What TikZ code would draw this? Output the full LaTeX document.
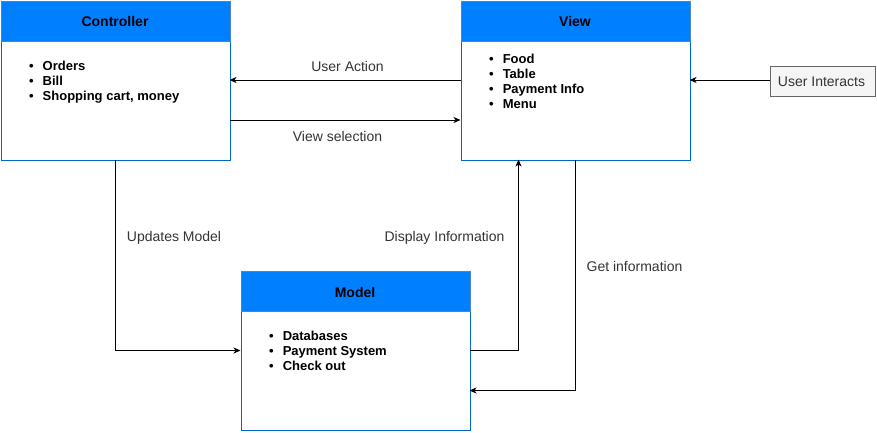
\documentclass[tikz,border=0pt]{standalone}
\usepackage{fontspec}
\setmainfont{Liberation Sans}
\usetikzlibrary{arrows.meta}
\definecolor{hdr}{HTML}{007FFF}
\definecolor{bdr}{HTML}{0066CC}
\definecolor{hdrline}{HTML}{4D86C8}
\definecolor{lbl}{HTML}{333333}
\begin{document}
\begin{tikzpicture}[x=1pt,y=-1pt,
  body/.style={draw=bdr,line width=1pt,fill=white,inner sep=0pt,anchor=north west},
  head/.style={draw=hdrline,line width=0.8pt,fill=hdr,inner sep=0pt,anchor=north west,minimum height=40pt},
  title/.style={font=\fontsize{14}{16}\selectfont\bfseries,anchor=base,inner sep=0pt},
  item/.style={font=\fontsize{13}{15}\selectfont\bfseries,anchor=base west,inner sep=0pt},
  lab/.style={font=\fontsize{14}{16}\selectfont,text=lbl,anchor=base,inner sep=0pt},
  conn/.style={draw=black,line width=0.8pt,-{Stealth[length=7pt,width=6pt,inset=2pt]}}]
\useasboundingbox (0,0) rectangle (877,432);
% Controller
\node[body,minimum width=229pt,minimum height=159pt] (ctrl) at (0.5,0.5) {};
\node[head,minimum width=229pt] (ctrlh) at (0.5,0.5) {};
\node[title] (ctrlt) at (115,26) {Controller};
\node[item] (c1) at (29,70) {\textbullet\hspace{9pt}Orders};
\node[item] (c2) at (29,85) {\textbullet\hspace{9pt}Bill};
\node[item] (c3) at (29,100) {\textbullet\hspace{9pt}Shopping cart, money};
% View
\node[body,minimum width=229pt,minimum height=159pt] (view) at (460.5,0.5) {};
\node[head,minimum width=229pt] (viewh) at (460.5,0.5) {};
\node[title] (viewt) at (575,26) {View};
\node[item] (v1) at (489,63) {\textbullet\hspace{9pt}Food};
\node[item] (v2) at (489,78) {\textbullet\hspace{9pt}Table};
\node[item] (v3) at (489,93) {\textbullet\hspace{9pt}Payment Info};
\node[item] (v4) at (489,108) {\textbullet\hspace{9pt}Menu};
% Model
\node[body,minimum width=229pt,minimum height=159pt] (model) at (240.5,270.5) {};
\node[head,minimum width=229pt] (modelh) at (240.5,270.5) {};
\node[title] (modelt) at (355,297) {Model};
\node[item] (m1) at (269,340) {\textbullet\hspace{9pt}Databases};
\node[item] (m2) at (269,355) {\textbullet\hspace{9pt}Payment System};
\node[item] (m3) at (269,370) {\textbullet\hspace{9pt}Check out};
% User Interacts
\node[draw=black!60,fill=black!4,line width=0.8pt,minimum width=105pt,minimum height=30pt,inner sep=0pt,anchor=north west] (ui) at (770,65.5) {};
\node[lab] (uit) at (821.5,86) {User Interacts};
% coordinates
\coordinate (va) at (460.5,80);
\coordinate (ca) at (229.5,80);
\coordinate (cb) at (229.5,120);
\coordinate (vb) at (460.5,120);
\coordinate (uil) at (770,80);
\coordinate (vr) at (689.5,80);
\coordinate (cbot) at (115.5,159.5);
\coordinate (mleft) at (240.5,350.5);
\coordinate (mr1) at (469.5,350.5);
\coordinate (vbot1) at (518.5,159.5);
\coordinate (vbot2) at (575.5,159.5);
\coordinate (mr2) at (469.5,390.5);
% connectors
\draw[conn] (va) -- (ca);
\draw[conn] (cb) -- (vb);
\draw[conn] (uil) -- (vr);
\draw[conn] (cbot) |- (mleft);
\draw[conn] (mr1) -| (vbot1);
\draw[conn] (vbot2) |- (mr2);
% labels
\node[lab] (l1) at (347.5,71) {User Action};
\node[lab] (l2) at (337.5,141) {View selection};
\node[lab] (l3) at (174,241) {Updates Model};
\node[lab] (l4) at (444.5,241) {Display Information};
\node[lab] (l5) at (634.5,271) {Get information};
\end{tikzpicture}
\end{document}
